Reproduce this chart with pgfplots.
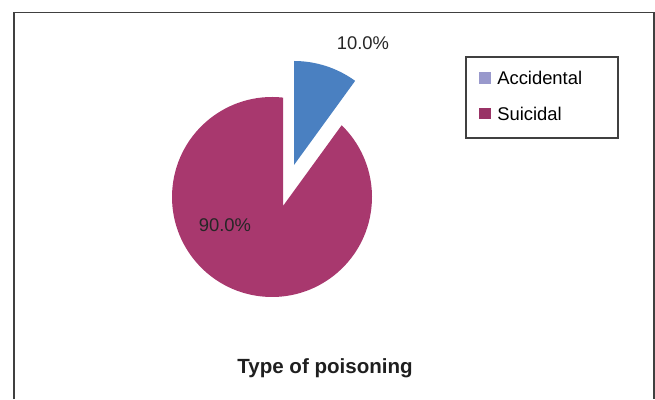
\documentclass[border=0pt]{standalone}
\usepackage{fontspec}
\setmainfont{Liberation Sans}
\usepackage{pgfplots}
\usepackage{pgfplotstable}
\pgfplotsset{compat=1.18}

\definecolor{suicidal}{RGB}{168,56,110}
\definecolor{accidental}{RGB}{74,128,193}
\definecolor{legacc}{RGB}{153,153,204}
\definecolor{legsui}{RGB}{153,51,102}
\definecolor{framegray}{RGB}{64,64,64}

% square legend swatches
\pgfplotsset{swatch legend/.style={legend image code/.code={%
  \fill[##1,draw=none] (0pt,-4.3pt) rectangle (8.6pt,4.3pt);
  \path (13.3pt,0pt);}}}

% share of each type of poisoning (%)
\pgfplotstableread{
type share
Accidental 10
Suicidal 90
}\sharetable

\begin{document}
\begin{tikzpicture}
\pgfplotstablegetelem{0}{share}\of\sharetable \let\accshare\pgfplotsretval
\pgfplotstablegetelem{1}{share}\of\sharetable \let\suishare\pgfplotsretval
% the accidental slice runs clockwise from 12 o'clock
\pgfmathsetmacro\cut{90-3.6*\accshare}
% main pie: circle centre, radius and slice apex (axis units)
\def\cx{272}\def\cy{202}\def\R{100}
\def\ax{283}\def\ay{193}
\pgfmathsetmacro\dx{\ax-\cx}
\pgfmathsetmacro\dy{\ay-\cy}
% where the two cut edges leave the circle
\pgfmathsetmacro\tA{-\dy+sqrt(\dy*\dy-\dx*\dx-\dy*\dy+\R*\R)}
\pgfmathsetmacro\angA{atan2(\dy+\tA,\dx)}
\pgfmathsetmacro\bB{\dx*cos(\cut)+\dy*sin(\cut)}
\pgfmathsetmacro\tB{-\bB+sqrt(\bB*\bB-\dx*\dx-\dy*\dy+\R*\R)}
\pgfmathsetmacro\angB{atan2(\dy+\tB*sin(\cut),\dx+\tB*cos(\cut))+360}
\pgfmathsetmacro\pAx{\cx+\R*cos(\angA)}
\pgfmathsetmacro\pAy{\cy+\R*sin(\angA)}
\begin{axis}[
  at={(0,0)}, anchor=south west,
  scale only axis, width=491.25pt, height=299.25pt,
  xmin=0, xmax=655, ymin=0, ymax=399,
  hide axis, clip=false,
  legend cell align=left,
  legend style={at={(axis cs:479,303.2)}, anchor=west,
    draw=none, fill=none, inner sep=0pt, row sep=12.9pt,
    font=\fontsize{13.8}{16}\selectfont,
    nodes={inner sep=0pt, text height=11.9pt, text depth=2pt}},
]
% chart frame
\draw[framegray, line width=1.1pt]
  (axis cs:13.8,0) -- (axis cs:13.8,386.3) -- (axis cs:654,386.3) -- (axis cs:654,0);
% legend frame
\draw[framegray, line width=0.8pt] (axis cs:466,342) rectangle (axis cs:618,261);

% suicidal slice
\fill[suicidal] (axis cs:\ax,\ay) -- (axis cs:\pAx,\pAy)
  arc[start angle=\angA, end angle=\angB, radius=75pt] -- cycle;
% accidental slice, pulled out
\fill[accidental] (axis cs:294,234) -- ([shift={(\cut:78pt)}]axis cs:294,234)
  arc[start angle=\cut, end angle=90, radius=78pt] -- cycle;

% data labels
\node[font=\fontsize{13.8}{16}\selectfont, text=black!85] at (axis cs:363,356)
  {\pgfmathprintnumber[fixed,fixed zerofill,precision=1,assume math mode=true]{\accshare}\%};
\node[font=\fontsize{13.8}{16}\selectfont, text=black!85] at (axis cs:225,174)
  {\pgfmathprintnumber[fixed,fixed zerofill,precision=1,assume math mode=true]{\suishare}\%};

% title
\node[font=\bfseries\fontsize{15.4}{18}\selectfont, text=black!88] at (axis cs:325,31)
  {Type of poisoning};

\addlegendimage{swatch legend, fill=legacc}
\addlegendentry{Accidental}
\addlegendimage{swatch legend, fill=legsui}
\addlegendentry{Suicidal}
\end{axis}
\pgfresetboundingbox
\useasboundingbox (0,0) rectangle (491.25pt,299.25pt);
\end{tikzpicture}
\end{document}
